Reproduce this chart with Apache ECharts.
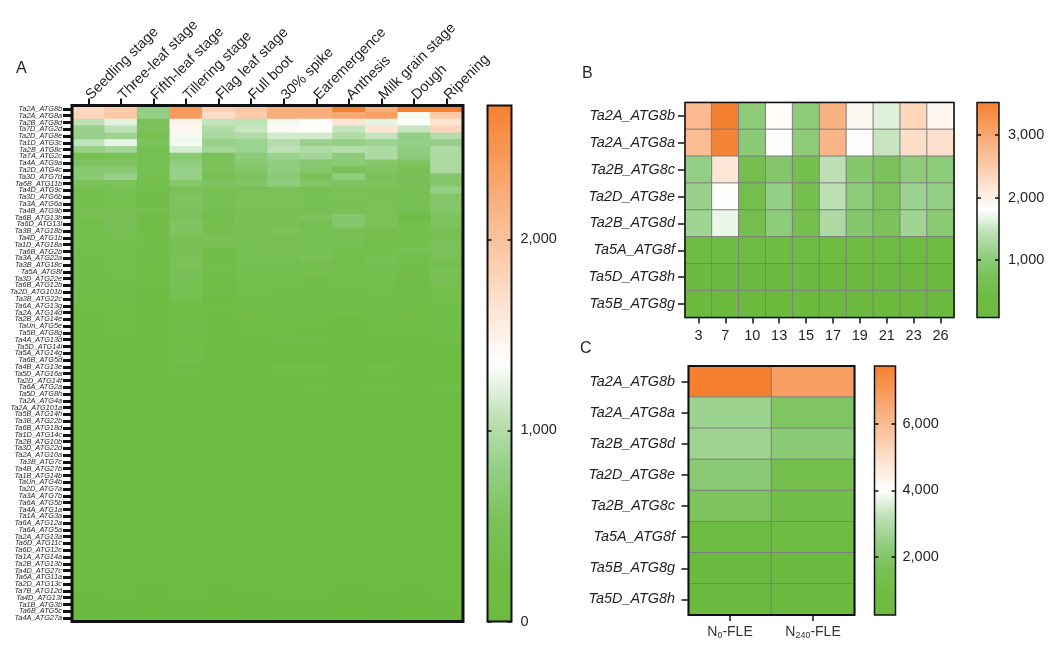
<!DOCTYPE html>
<html><head><meta charset="utf-8">
<style>html,body{margin:0;padding:0;background:#fff}#c{width:1059px;height:654px}</style>
<script src="https://cdn.jsdelivr.net/npm/echarts@6/dist/echarts.min.js"></script>
</head><body><div id="c"></div>
<script>
const rampColors = ['#6CBB3F','#6FBC45','#7BC25A','#95CF87','#C0E2B8','#FFFFFF','#FDE6D6','#FBCCAC','#F9B383','#F79959','#F58030'];

const stages = ['Seedling stage','Three-leaf stage','Fifth-leaf stage','Tillering stage','Flag leaf stage','Full boot','30% spike','Earemergence','Anthesis','Milk grain stage','Dough','Ripening'];
const genesA = ['Ta2A_ATG8b','Ta2A_ATG8a','Ta2B_ATG8d','Ta7D_ATG2d','Ta2D_ATG8e','Ta1D_ATG3c','Ta2B_ATG8c','Ta7A_ATG2c','Ta4A_ATG9a','Ta2D_ATG4c','Ta3D_ATG7d','Ta6B_ATG11b','Ta4D_ATG9c','Ta3D_ATG6b','Ta3A_ATG6a','Ta4B_ATG9b','Ta6B_ATG13h','Ta6D_ATG13l','Ta3B_ATG18b','Ta4D_ATG1b','Ta1D_ATG18a','Ta6B_ATG2b','Ta3A_ATG22a','Ta3B_ATG18c','Ta5A_ATG8f','Ta3D_ATG22e','Ta6B_ATG12b','Ta2D_ATG101b','Ta3B_ATG22c','Ta6A_ATG13g','Ta2A_ATG14d','Ta2B_ATG14e','TaUn_ATG5e','Ta5B_ATG8g','Ta4A_ATG13d','Ta5D_ATG14i','Ta5A_ATG14g','Ta6B_ATG5d','Ta4B_ATG13e','Ta5D_ATG16a','Ta2D_ATG14f','Ta6A_ATG2a','Ta5D_ATG8h','Ta2A_ATG4a','Ta2A_ATG101a','Ta5B_ATG14h','Ta3B_ATG22b','Ta6B_ATG18d','Ta1D_ATG14c','Ta2B_ATG10b','Ta3D_ATG22d','Ta2A_ATG10a','Ta3B_ATG7c','Ta4B_ATG27b','Ta1B_ATG14b','TaUn_ATG4b','Ta2D_ATG7a','Ta3A_ATG7b','Ta6A_ATG5b','Ta4A_ATG1a','Ta1A_ATG3a','Ta6A_ATG12a','Ta6A_ATG5a','Ta2A_ATG13a','Ta6D_ATG11c','Ta6D_ATG12c','Ta1A_ATG14a','Ta2B_ATG13b','Ta4D_ATG27c','Ta6A_ATG11a','Ta2D_ATG13c','Ta7B_ATG12d','Ta4D_ATG13f','Ta1B_ATG3b','Ta6B_ATG5c','Ta4A_ATG27a'];
const valuesA = [
[1760,1900,800,2430,1850,1930,2200,2200,2700,2200,2700,2700],
[1800,1930,800,2400,1720,1900,2220,2220,2270,2360,1300,1930],
[1060,1235,540,1480,1090,1070,1290,1340,1620,1240,1330,1640],
[835,1060,540,1450,985,1110,1400,1360,1100,1640,1100,1800],
[830,870,430,1310,940,980,1160,1160,980,1100,800,1010],
[1090,1250,560,1300,830,860,1010,830,800,860,830,820],
[835,890,420,1180,910,860,1060,975,1020,975,760,960],
[390,540,420,680,520,730,850,910,730,960,730,945],
[570,570,420,750,540,680,760,680,700,650,590,945],
[680,680,420,830,540,620,770,650,500,590,480,950],
[690,830,420,820,460,570,700,510,750,550,500,650],
[530,530,390,640,570,600,750,620,570,570,500,650],
[400,470,340,510,440,500,510,440,500,440,440,800],
[400,440,330,570,450,510,510,480,520,500,450,620],
[400,440,330,570,450,520,510,480,500,500,440,630],
[470,490,370,560,430,500,490,450,490,510,420,620],
[420,470,290,550,350,500,480,560,640,530,330,570],
[380,500,290,590,400,470,470,430,640,520,400,560],
[380,460,300,590,390,440,540,440,450,370,400,420],
[390,400,340,500,520,460,470,440,470,370,390,470],
[420,410,340,480,470,430,500,430,430,370,390,540],
[370,380,340,470,350,430,490,420,400,400,480,540],
[350,380,320,510,310,420,430,510,370,440,370,500],
[340,370,300,510,340,420,430,410,370,410,350,400],
[340,360,300,470,360,400,410,400,360,390,350,480],
[340,350,300,470,300,400,390,350,360,360,330,470],
[340,350,280,460,310,380,370,340,360,380,320,400],
[330,340,270,440,310,360,350,340,340,350,330,380],
[310,320,270,400,270,320,340,330,330,340,330,370],
[290,300,270,300,280,320,330,330,320,330,320,340],
[280,300,280,300,280,310,320,320,310,320,310,320],
[270,300,260,300,270,290,300,300,270,290,290,340],
[270,290,250,330,270,280,300,270,240,280,280,330],
[260,280,240,330,270,280,290,270,230,280,280,330],
[260,270,240,300,260,270,280,280,240,270,270,290],
[260,270,230,340,260,270,270,260,240,260,270,280],
[240,260,230,340,250,260,260,250,240,250,260,260],
[250,250,240,340,240,260,250,240,230,250,250,260],
[240,250,230,280,240,250,310,300,240,300,250,270],
[230,240,230,290,230,240,260,260,230,250,240,260],
[230,240,220,260,220,240,250,250,220,240,240,250],
[220,230,220,240,220,230,230,290,210,300,230,300],
[210,220,210,230,210,220,220,280,200,230,220,240],
[200,220,190,230,200,210,220,230,190,220,210,230],
[200,210,190,220,190,210,210,220,190,210,200,220],
[190,200,180,210,190,200,210,210,180,200,190,210],
[190,190,180,210,180,190,200,200,180,200,190,200],
[180,190,170,200,180,190,200,190,170,190,180,200],
[170,180,170,190,170,180,190,190,170,180,170,190],
[170,170,160,190,160,180,180,180,160,180,170,180],
[160,170,150,180,160,170,170,180,150,170,160,180],
[150,160,150,170,150,160,170,170,150,160,150,170],
[150,150,140,170,140,150,160,160,140,150,150,160],
[140,150,130,160,140,150,150,150,140,150,140,150],
[130,140,130,150,130,140,150,140,130,140,130,150],
[130,130,120,150,120,130,140,140,120,130,130,140],
[120,130,120,140,120,130,130,130,120,130,120,130],
[110,120,110,130,110,120,130,120,110,120,110,130],
[110,110,100,120,110,110,120,120,100,110,110,120],
[100,110,100,120,100,110,110,110,100,110,100,110],
[100,100,90,110,90,100,110,100,90,100,90,110],
[90,100,90,110,90,100,100,100,90,90,90,100],
[90,90,80,100,80,90,90,90,80,90,80,90],
[80,90,80,90,80,80,90,90,80,80,80,90],
[80,80,70,90,70,80,80,80,70,80,70,80],
[70,80,70,80,70,70,80,80,70,70,70,80],
[70,70,60,80,60,70,70,70,60,70,60,70],
[60,70,60,70,60,60,70,70,60,60,60,70],
[60,60,50,70,50,60,60,60,50,60,50,60],
[50,60,50,60,50,50,60,60,50,50,50,60],
[50,50,40,60,40,50,50,50,40,50,40,50],
[40,50,40,50,40,40,50,50,40,40,40,50],
[40,40,30,50,30,40,40,40,30,40,30,40],
[30,40,30,40,30,30,40,40,30,30,30,40],
[30,30,20,40,20,30,30,30,20,30,20,30],
[20,30,20,30,20,20,30,30,20,20,20,30]
];

const daysB = ['3','7','10','13','15','17','19','21','23','26'];
const genesB = ['Ta2A_ATG8b','Ta2A_ATG8a','Ta2B_ATG8c','Ta2D_ATG8e','Ta2B_ATG8d','Ta5A_ATG8f','Ta5D_ATG8h','Ta5B_ATG8g'];
const valuesB = [
[2745,3520,1012,1850,1010,2830,1920,1630,2370,1920],
[2700,3480,980,1815,1010,2800,1830,1490,2260,2230],
[1100,2150,560,890,600,1430,900,780,1010,1000],
[1150,1820,560,1110,600,1420,1000,790,1170,1090],
[1200,1690,560,1000,580,1310,910,780,1200,950],
[170,180,170,170,180,170,170,180,170,170],
[120,130,120,120,130,120,120,130,120,120],
[100,110,100,110,100,100,110,100,110,100]
];

const treatC = ['{n|N}{s|0}{n|-FLE}','{n|N}{s|240}{n|-FLE}'];
const genesC = ['Ta2A_ATG8b','Ta2A_ATG8a','Ta2B_ATG8d','Ta2D_ATG8e','Ta2B_ATG8c','Ta5A_ATG8f','Ta5B_ATG8g','Ta5D_ATG8h'];
const valuesC = [
[7750,6800],
[2600,1890],
[2660,2180],
[2190,1360],
[1800,1200],
[420,420],
[340,350],
[320,330]
];

const rangeA = [0,2700], rangeB = [85,3520], rangeC = [240,7750];
const ticksA = [0,1000,2000], ticksB = [1000,2000,3000], ticksC = [2000,4000,6000];

const FONT = '"Liberation Sans", Arial, sans-serif';
const INK = '#231f20';
const toCells = rows => rows.flatMap((r,y)=>r.map((v,x)=>[x,y,v]));
const barFill = {type:'linear',x:0,y:1,x2:0,y2:0,
  colorStops: rampColors.map((c,i)=>({offset:i/(rampColors.length-1),color:c}))};

const boxes = {
  A:{left:72,top:105.5,width:391,height:516},
  B:{left:685,top:102.5,width:269,height:215},
  C:{left:688.5,top:366,width:166,height:249},
  barA:{left:487.5,top:105.5,width:24,height:516},
  barB:{left:977,top:102.5,width:22,height:215},
  barC:{left:874.5,top:366,width:21,height:249}
};
const grids = [
  {...boxes.A,show:true,borderWidth:0,backgroundColor:rampColors[1]},
  {...boxes.B,show:true,z:6,borderColor:'#111',borderWidth:1.5,backgroundColor:'transparent'},
  {...boxes.C,show:true,z:6,borderColor:'#111',borderWidth:2,backgroundColor:'transparent'},
  {...boxes.barA,show:true,borderColor:'#111',borderWidth:2,backgroundColor:barFill},
  {...boxes.barB,show:true,borderColor:'#111',borderWidth:1.5,backgroundColor:barFill},
  {...boxes.barC,show:true,borderColor:'#111',borderWidth:1.5,backgroundColor:barFill},
  {...boxes.A,show:true,z:6,borderColor:'#111',borderWidth:3,backgroundColor:'transparent'}
].map(g=>({...g,outerBoundsMode:'none',containLabel:false}));

const catY = (i,data,font,tickLen,tickW,margin)=>({type:'category',gridIndex:i,data,inverse:true,
  axisLine:{show:false},splitLine:{show:false},
  axisTick:{show:true,alignWithLabel:true,length:tickLen,lineStyle:{color:'#111',width:tickW}},
  axisLabel:{interval:0,fontFamily:FONT,fontStyle:'italic',fontSize:font,color:INK,margin}});
const catX = (i,data,pos,tickLen,tickW,extra)=>({type:'category',gridIndex:i,data,position:pos,
  axisLine:{show:false},splitLine:{show:false},
  axisTick:{show:true,alignWithLabel:true,length:tickLen,lineStyle:{color:'#111',width:tickW}},
  axisLabel:{interval:0,fontFamily:FONT,fontSize:14.5,color:INK,...extra}});
const hiddenX = i=>({type:'value',gridIndex:i,min:0,max:1,show:false});
const hiddenY = i=>({type:'value',gridIndex:i,min:0,max:1,show:false});
const fmt = v=>Number(v).toLocaleString('en-US');
const barYRight = (i,range,ticks,margin)=>({type:'value',gridIndex:i,min:range[0],max:range[1],position:'right',
  splitLine:{show:false},axisLine:{show:false,onZero:false},
  axisTick:{show:true,inside:true,length:4,customValues:ticks,lineStyle:{color:'#111',width:1.5}},
  axisLabel:{customValues:ticks,formatter:fmt,fontFamily:FONT,fontSize:14.5,color:INK,margin}});
const barYLeft = (i,range,ticks)=>({type:'value',gridIndex:i,min:range[0],max:range[1],position:'left',
  splitLine:{show:false},axisLine:{show:false,onZero:false},
  axisTick:{show:true,inside:true,length:4,customValues:ticks,lineStyle:{color:'#111',width:1.5}},
  axisLabel:{show:false}});

const heat = (ax,ay,data,border)=>({type:'heatmap',xAxisIndex:ax,yAxisIndex:ay,data,
  progressive:0,animation:false,
  itemStyle:border?{borderColor:'#7f7f7f',borderWidth:1}:{borderWidth:0},
  emphasis:{disabled:true}});

const vm = (si,range)=>({show:false,type:'continuous',seriesIndex:si,dimension:2,min:range[0],max:range[1],
  inRange:{color:rampColors}});

const letter = (text,x,y)=>({type:'text',left:x,top:y,style:{text,font:'16px '+FONT,fill:INK}});

const option = {
  animation:false,
  backgroundColor:'#fff',
  grid:grids,
  xAxis:[
    catX(0,stages,'top',7,2,{rotate:-45,margin:8}),
    catX(1,daysB,'bottom',6,1.5,{margin:11}),
    catX(2,treatC,'bottom',6,1.5,{margin:10,rich:{n:{fontFamily:FONT,fontSize:14,color:'#333'},s:{fontFamily:FONT,fontSize:9,color:'#333',verticalAlign:'bottom',padding:[6,0,0,0]}}}),
    hiddenX(3),hiddenX(4),hiddenX(5),hiddenX(6)
  ],
  yAxis:[
    catY(0,genesA,7.3,9,3,10),
    catY(1,genesB,14.4,7,1.5,10),
    catY(2,genesC,14.4,7,1.5,13.5),
    barYRight(3,rangeA,ticksA,9),barYRight(4,rangeB,ticksB,9),barYRight(5,rangeC,ticksC,7),
    barYLeft(3,rangeA,ticksA),barYLeft(4,rangeB,ticksB),barYLeft(5,rangeC,ticksC),
    hiddenY(6)
  ],
  visualMap:[vm(0,rangeA),vm(1,rangeB),vm(2,rangeC)],
  series:[
    heat(0,0,toCells(valuesA),false),
    heat(1,1,toCells(valuesB),true),
    heat(2,2,toCells(valuesC),true)
  ],
  graphic:[letter('A',16,61),letter('B',582,66),letter('C',580,341)]
};
const chart = echarts.init(document.getElementById('c'),null,{renderer:'canvas'});
chart.setOption(option);
</script></body></html>
